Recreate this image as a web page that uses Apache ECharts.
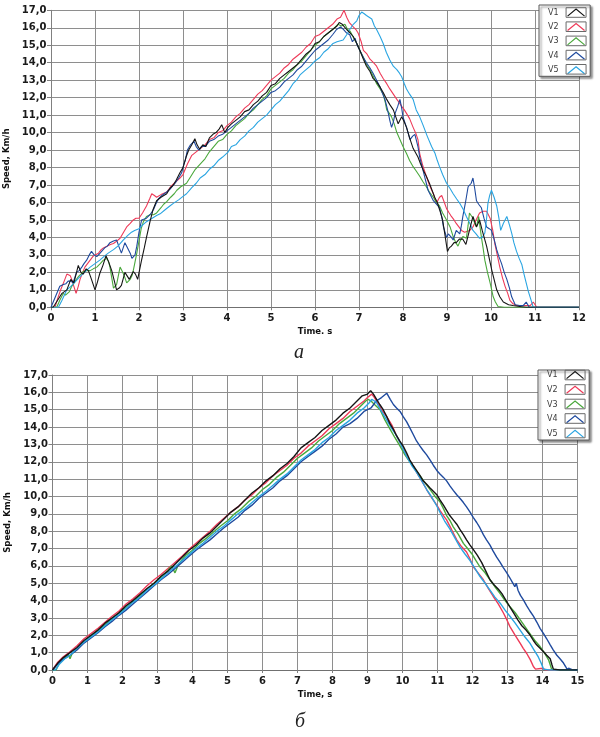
<!DOCTYPE html>
<html><head><meta charset="utf-8">
<script src="https://cdn.jsdelivr.net/npm/echarts/dist/echarts.min.js"></script>
<style>html,body{margin:0;padding:0;background:#fff}#c{width:600px;height:737px}</style>
</head><body><div id="c"></div>
<script>
// ---------- DATA ----------
const seriesNames = ['V1', 'V2', 'V3', 'V4', 'V5'];
const seriesColors = ['#151515', '#ee3a58', '#4aa83c', '#1f4a9e', '#2aa5e2'];
const xNameTop = 'Time. s';
const xNameBottom = 'Time, s';
const yName = 'Speed, Km/h';
const panelLabels = ['а', 'б'];

// chart (а): [time s, speed km/h]
const topV1 = [[0,0],[0.05,0],[0.15,0.4],[0.25,0.8],[0.36,1.0],[0.45,1.6],[0.52,1.4],[0.62,2.4],[0.68,2.0],[0.73,1.9],[0.8,2.2],[0.85,2.1],[0.92,1.6],[1.0,1.0],[1.05,1.4],[1.11,1.95],[1.18,2.4],[1.25,2.95],[1.31,2.6],[1.38,2.1],[1.44,1.5],[1.49,1.0],[1.55,1.1],[1.6,1.25],[1.68,2.0],[1.73,1.8],[1.78,1.6],[1.87,2.05],[1.92,1.9],[1.97,1.6],[2.05,2.6],[2.12,3.4],[2.17,4.0],[2.25,4.9],[2.32,5.6],[2.4,6.1],[2.5,6.3],[2.63,6.5],[2.7,6.8],[2.78,7.0],[2.85,7.3],[2.93,7.7],[3.0,8.0],[3.07,8.6],[3.13,9.0],[3.2,9.3],[3.27,9.65],[3.32,9.3],[3.38,9.05],[3.45,9.3],[3.52,9.2],[3.6,9.7],[3.68,9.9],[3.75,10.0],[3.82,10.2],[3.88,10.45],[3.95,10.0],[4.02,10.3],[4.1,10.5],[4.2,10.7],[4.3,10.9],[4.4,11.2],[4.5,11.3],[4.6,11.6],[4.7,11.8],[4.8,12.1],[4.9,12.3],[5.0,12.7],[5.1,12.8],[5.2,13.1],[5.3,13.3],[5.4,13.5],[5.5,13.7],[5.6,13.9],[5.7,14.2],[5.8,14.5],[5.9,14.7],[6.0,15.1],[6.1,15.2],[6.2,15.5],[6.3,15.7],[6.4,15.9],[6.5,16.1],[6.55,16.3],[6.62,16.2],[6.72,15.9],[6.8,15.7],[6.87,15.5],[6.95,15.1],[7.02,14.7],[7.1,14.2],[7.17,13.8],[7.25,13.5],[7.32,13.1],[7.4,12.9],[7.48,12.6],[7.55,12.3],[7.63,11.9],[7.7,11.6],[7.78,11.3],[7.85,10.8],[7.89,10.5],[7.97,10.9],[8.03,10.6],[8.08,10.3],[8.15,9.7],[8.23,9.1],[8.34,8.6],[8.4,8.2],[8.46,7.85],[8.53,7.5],[8.6,7.1],[8.66,6.7],[8.72,6.3],[8.78,6.0],[8.83,5.6],[8.9,5.0],[8.95,4.2],[9.01,3.2],[9.05,3.4],[9.1,3.5],[9.16,3.7],[9.21,3.7],[9.28,3.9],[9.36,3.9],[9.43,3.6],[9.51,4.4],[9.59,5.2],[9.63,4.9],[9.67,4.6],[9.74,5.0],[9.8,4.4],[9.9,3.5],[9.96,2.8],[10.02,2.1],[10.08,1.5],[10.13,1.0],[10.2,0.6],[10.28,0.3],[10.4,0.15],[10.5,0.1],[10.65,0.05],[10.8,0],[12,0]];
const topV2 = [[0,0],[0.09,0],[0.15,0.5],[0.22,1.0],[0.3,1.5],[0.36,1.9],[0.39,2.0],[0.44,1.8],[0.47,1.6],[0.52,1.2],[0.57,0.8],[0.62,1.2],[0.66,1.6],[0.72,2.0],[0.77,2.3],[0.83,2.5],[0.89,2.7],[0.95,2.9],[1.0,3.0],[1.08,3.1],[1.14,3.3],[1.19,3.4],[1.27,3.5],[1.35,3.6],[1.42,3.65],[1.5,3.8],[1.57,3.95],[1.65,4.3],[1.72,4.6],[1.8,4.8],[1.87,5.0],[1.93,5.1],[2.0,5.1],[2.08,5.4],[2.17,5.8],[2.24,6.2],[2.29,6.5],[2.35,6.4],[2.4,6.3],[2.5,6.45],[2.63,6.6],[2.72,6.9],[2.8,7.1],[2.93,7.4],[3.0,7.6],[3.1,8.2],[3.2,8.7],[3.3,8.9],[3.4,9.1],[3.5,9.3],[3.6,9.6],[3.7,9.7],[3.8,10.0],[3.9,10.1],[4.0,10.4],[4.1,10.6],[4.2,10.9],[4.3,11.1],[4.4,11.4],[4.5,11.6],[4.6,11.9],[4.7,12.2],[4.8,12.4],[4.9,12.7],[5.0,13.0],[5.1,13.2],[5.2,13.4],[5.3,13.7],[5.4,13.9],[5.5,14.2],[5.6,14.4],[5.7,14.6],[5.8,14.9],[5.9,15.1],[6.0,15.5],[6.1,15.6],[6.2,15.8],[6.3,16.0],[6.4,16.2],[6.5,16.5],[6.58,16.6],[6.66,17.0],[6.72,16.6],[6.78,16.3],[6.87,16.05],[6.93,15.9],[6.98,15.7],[7.05,15.2],[7.1,14.7],[7.18,14.5],[7.25,14.2],[7.33,14.0],[7.4,13.8],[7.48,13.4],[7.55,13.1],[7.63,12.8],[7.7,12.5],[7.78,12.2],[7.86,11.9],[7.92,11.7],[7.97,11.5],[8.03,11.3],[8.08,11.1],[8.15,10.8],[8.23,10.3],[8.3,9.9],[8.34,9.6],[8.38,8.8],[8.45,8.1],[8.53,7.5],[8.6,7.0],[8.69,6.5],[8.76,5.95],[8.83,6.3],[8.88,6.4],[8.94,6.0],[8.99,5.65],[9.05,5.4],[9.1,5.2],[9.16,5.0],[9.21,4.8],[9.27,4.6],[9.33,4.4],[9.4,4.3],[9.44,4.2],[9.52,4.4],[9.59,4.6],[9.66,5.0],[9.74,5.4],[9.82,5.5],[9.9,5.5],[9.98,5.1],[10.04,4.4],[10.09,3.6],[10.15,2.9],[10.2,2.3],[10.26,1.7],[10.32,1.2],[10.38,0.8],[10.43,0.4],[10.5,0.2],[10.58,0.1],[10.75,0.1],[10.89,0.1],[10.96,0.3],[11.04,0],[12,0]];
const topV3 = [[0,0],[0.13,0],[0.2,0.4],[0.28,0.8],[0.33,0.7],[0.36,0.6],[0.42,0.9],[0.47,1.2],[0.55,1.5],[0.62,1.75],[0.68,1.9],[0.73,2.05],[0.8,2.1],[0.89,2.1],[0.96,2.2],[1.04,2.3],[1.12,2.5],[1.19,2.7],[1.27,2.8],[1.31,2.6],[1.34,2.3],[1.38,1.7],[1.42,1.1],[1.46,1.1],[1.49,1.3],[1.53,1.8],[1.57,2.3],[1.61,2.1],[1.64,1.95],[1.68,1.7],[1.72,1.4],[1.76,1.4],[1.8,1.6],[1.84,1.8],[1.87,2.1],[1.91,2.6],[1.95,3.1],[2.0,3.8],[2.05,4.5],[2.1,4.9],[2.17,5.2],[2.25,5.3],[2.33,5.3],[2.4,5.4],[2.5,5.7],[2.56,5.9],[2.63,6.05],[2.72,6.3],[2.8,6.5],[2.86,6.7],[2.95,6.9],[3.08,7.1],[3.18,7.5],[3.28,7.9],[3.39,8.2],[3.5,8.5],[3.6,8.9],[3.7,9.2],[3.8,9.5],[3.9,9.6],[4.0,9.9],[4.1,10.1],[4.2,10.4],[4.3,10.6],[4.4,10.8],[4.5,11.1],[4.6,11.3],[4.7,11.6],[4.8,11.9],[4.9,12.1],[5.0,12.5],[5.1,12.7],[5.2,12.9],[5.3,13.1],[5.4,13.4],[5.5,13.6],[5.6,13.9],[5.7,14.1],[5.8,14.4],[5.9,14.7],[6.0,15.0],[6.1,15.2],[6.2,15.5],[6.3,15.7],[6.4,15.9],[6.52,16.2],[6.6,16.1],[6.68,16.2],[6.74,15.9],[6.8,15.8],[6.88,15.4],[6.95,15.1],[7.02,14.7],[7.1,14.3],[7.17,13.9],[7.25,13.6],[7.33,13.2],[7.4,12.8],[7.48,12.5],[7.55,12.2],[7.6,11.7],[7.63,11.3],[7.69,11.1],[7.74,10.9],[7.8,10.5],[7.86,10.0],[7.93,9.6],[8.0,9.2],[8.08,8.8],[8.15,8.4],[8.23,8.05],[8.3,7.8],[8.38,7.5],[8.45,7.2],[8.53,6.9],[8.6,6.6],[8.69,6.3],[8.76,6.0],[8.83,5.8],[8.9,5.4],[8.99,5.0],[9.07,4.6],[9.14,4.05],[9.2,3.7],[9.25,3.5],[9.3,3.8],[9.36,4.05],[9.4,4.0],[9.44,3.95],[9.48,4.7],[9.51,5.4],[9.55,5.3],[9.59,5.1],[9.63,4.8],[9.67,4.6],[9.72,5.2],[9.75,4.6],[9.78,4.05],[9.82,3.4],[9.86,2.7],[9.92,2.0],[9.98,1.4],[10.05,0.6],[10.1,0.3],[10.16,0.05],[10.3,0],[12,0]];
const topV4 = [[0,0],[0.03,0],[0.1,0.6],[0.2,1.2],[0.28,1.3],[0.34,1.35],[0.39,1.5],[0.45,1.5],[0.5,1.4],[0.54,1.7],[0.58,2.0],[0.64,2.1],[0.7,2.3],[0.75,2.5],[0.81,2.7],[0.87,3.0],[0.92,3.2],[0.98,3.0],[1.04,2.9],[1.1,3.05],[1.15,3.2],[1.22,3.4],[1.28,3.5],[1.34,3.7],[1.42,3.8],[1.49,3.85],[1.54,3.5],[1.6,3.1],[1.64,3.4],[1.68,3.7],[1.74,3.4],[1.8,3.1],[1.84,2.8],[1.87,2.7],[1.91,3.0],[1.95,3.5],[2.0,4.3],[2.06,5.0],[2.12,5.05],[2.17,5.1],[2.25,5.3],[2.33,5.6],[2.38,5.9],[2.44,6.2],[2.52,6.4],[2.63,6.6],[2.72,6.8],[2.82,7.1],[2.9,7.4],[2.97,7.7],[3.02,8.2],[3.05,8.4],[3.1,9.0],[3.17,9.3],[3.25,9.5],[3.3,9.2],[3.36,9.0],[3.42,9.2],[3.5,9.2],[3.6,9.5],[3.7,9.6],[3.8,9.8],[3.9,9.9],[4.0,10.1],[4.1,10.3],[4.2,10.5],[4.3,10.7],[4.4,10.9],[4.5,11.1],[4.6,11.4],[4.7,11.6],[4.8,11.8],[4.9,12.0],[5.0,12.3],[5.1,12.4],[5.2,12.6],[5.3,12.9],[5.4,13.1],[5.5,13.3],[5.6,13.6],[5.7,13.8],[5.8,14.1],[5.9,14.4],[6.0,14.7],[6.1,14.9],[6.2,15.1],[6.3,15.3],[6.4,15.6],[6.49,15.9],[6.58,16.05],[6.65,15.9],[6.72,15.7],[6.79,15.6],[6.85,15.2],[6.91,15.4],[6.96,15.0],[7.02,14.7],[7.1,14.3],[7.17,14.0],[7.25,13.7],[7.32,13.4],[7.4,13.0],[7.48,12.6],[7.54,12.2],[7.59,11.9],[7.65,11.3],[7.7,10.7],[7.74,10.3],[7.78,10.6],[7.82,11.1],[7.88,11.5],[7.93,11.9],[7.97,11.4],[8.0,10.9],[8.08,10.3],[8.16,9.6],[8.22,9.8],[8.27,9.9],[8.34,9.2],[8.38,8.6],[8.44,8.0],[8.49,7.5],[8.53,7.1],[8.57,6.7],[8.63,6.4],[8.69,6.1],[8.76,5.9],[8.83,5.7],[8.88,5.2],[8.92,4.6],[8.99,4.0],[9.03,4.2],[9.07,4.25],[9.1,4.0],[9.14,3.85],[9.21,4.4],[9.25,4.3],[9.29,4.2],[9.33,4.7],[9.36,5.2],[9.42,6.0],[9.48,6.9],[9.55,7.1],[9.59,7.4],[9.63,6.8],[9.67,6.1],[9.72,5.9],[9.78,5.7],[9.84,5.1],[9.9,4.6],[9.96,4.5],[10.01,4.4],[10.07,3.9],[10.13,3.3],[10.18,2.9],[10.24,2.5],[10.3,2.0],[10.36,1.6],[10.42,1.1],[10.47,0.6],[10.55,0.15],[10.65,0.1],[10.73,0.1],[10.8,0.3],[10.87,0],[12,0]];
const topV5 = [[0,0],[0.17,0],[0.25,0.4],[0.36,1.0],[0.45,1.2],[0.55,1.45],[0.62,1.65],[0.7,1.85],[0.8,2.1],[0.89,2.3],[1.0,2.5],[1.11,2.7],[1.2,2.9],[1.3,3.1],[1.42,3.3],[1.52,3.5],[1.64,3.85],[1.74,4.1],[1.83,4.3],[1.9,4.4],[2.0,4.5],[2.08,4.7],[2.17,4.9],[2.3,5.1],[2.4,5.25],[2.48,5.35],[2.6,5.6],[2.7,5.8],[2.78,5.95],[2.9,6.15],[3.0,6.35],[3.08,6.5],[3.2,6.85],[3.3,7.1],[3.39,7.4],[3.5,7.6],[3.6,7.9],[3.7,8.1],[3.8,8.4],[3.9,8.6],[4.03,8.9],[4.1,9.2],[4.2,9.3],[4.3,9.6],[4.4,9.8],[4.5,10.1],[4.6,10.3],[4.7,10.6],[4.8,10.8],[4.9,11.0],[5.0,11.3],[5.1,11.6],[5.2,11.8],[5.3,12.1],[5.4,12.4],[5.5,12.8],[5.58,13.0],[5.66,13.3],[5.75,13.5],[5.89,13.8],[6.0,14.1],[6.11,14.3],[6.2,14.6],[6.3,14.8],[6.41,15.1],[6.5,15.2],[6.64,15.3],[6.72,15.6],[6.79,15.9],[6.87,16.2],[6.95,16.4],[7.0,16.7],[7.06,16.9],[7.12,16.8],[7.17,16.7],[7.23,16.6],[7.29,16.5],[7.35,16.1],[7.4,15.9],[7.48,15.5],[7.55,15.1],[7.62,14.6],[7.7,14.15],[7.78,13.8],[7.86,13.6],[7.92,13.4],[7.97,13.2],[8.03,12.8],[8.08,12.5],[8.15,12.2],[8.23,11.9],[8.3,11.3],[8.38,10.9],[8.46,10.4],[8.55,9.8],[8.65,9.2],[8.73,8.8],[8.78,8.4],[8.83,8.05],[8.9,7.6],[8.99,7.1],[9.07,6.8],[9.14,6.5],[9.22,6.2],[9.29,5.95],[9.37,5.6],[9.44,5.2],[9.52,4.8],[9.59,4.4],[9.66,4.2],[9.74,3.95],[9.8,4.0],[9.86,4.25],[9.9,5.1],[9.93,5.95],[9.97,6.4],[10.01,6.7],[10.07,6.3],[10.13,5.8],[10.18,5.1],[10.22,4.4],[10.28,4.8],[10.36,5.2],[10.42,4.7],[10.47,4.25],[10.52,3.7],[10.58,3.2],[10.64,2.8],[10.7,2.45],[10.75,1.9],[10.8,1.4],[10.85,0.9],[10.9,0.5],[10.96,0],[12,0]];

// chart (б): [time s, speed km/h]
const botV1 = [[0,0],[0.05,0],[0.15,0.4],[0.3,0.7],[0.5,1.0],[0.7,1.3],[0.9,1.7],[1.1,2.0],[1.3,2.3],[1.5,2.7],[1.7,3.0],[1.9,3.3],[2.1,3.7],[2.3,4.0],[2.5,4.35],[2.7,4.7],[2.9,5.0],[3.1,5.4],[3.3,5.7],[3.5,6.1],[3.7,6.5],[3.9,6.9],[4.1,7.2],[4.3,7.6],[4.5,7.9],[4.7,8.3],[4.9,8.7],[5.1,9.1],[5.3,9.4],[5.5,9.8],[5.7,10.2],[5.9,10.5],[6.1,10.9],[6.3,11.2],[6.5,11.6],[6.7,11.9],[6.9,12.3],[7.1,12.8],[7.3,13.1],[7.5,13.4],[7.7,13.8],[7.9,14.1],[8.1,14.4],[8.3,14.8],[8.5,15.1],[8.7,15.5],[8.85,15.8],[9.0,15.9],[9.09,16.1],[9.17,15.9],[9.26,15.6],[9.35,15.3],[9.45,15.0],[9.55,14.6],[9.64,14.2],[9.73,13.9],[9.83,13.5],[9.92,13.2],[10.02,12.9],[10.12,12.5],[10.21,12.1],[10.3,11.8],[10.4,11.5],[10.5,11.2],[10.59,10.9],[10.69,10.7],[10.78,10.5],[10.88,10.3],[10.98,10.1],[11.07,9.8],[11.17,9.5],[11.26,9.2],[11.35,8.9],[11.45,8.65],[11.55,8.4],[11.64,8.1],[11.74,7.8],[11.83,7.5],[11.93,7.2],[12.02,6.95],[12.14,6.6],[12.26,6.2],[12.38,5.7],[12.5,5.2],[12.62,4.9],[12.74,4.65],[12.84,4.4],[12.93,4.1],[13.05,3.7],[13.17,3.3],[13.29,2.9],[13.41,2.55],[13.53,2.3],[13.65,2.0],[13.74,1.7],[13.83,1.45],[13.93,1.25],[14.03,1.05],[14.12,0.85],[14.22,0.65],[14.27,0.3],[14.31,0.05],[14.5,0],[15,0]];
const botV2 = [[0,0],[0.05,0],[0.15,0.45],[0.3,0.75],[0.5,1.05],[0.7,1.4],[0.9,1.8],[1.1,2.1],[1.3,2.4],[1.5,2.75],[1.7,3.1],[1.9,3.4],[2.1,3.8],[2.3,4.1],[2.5,4.45],[2.7,4.85],[2.9,5.2],[3.1,5.5],[3.3,5.85],[3.5,6.2],[3.7,6.55],[3.9,6.95],[4.1,7.3],[4.3,7.65],[4.5,8.0],[4.7,8.4],[4.9,8.75],[5.1,9.1],[5.3,9.4],[5.5,9.8],[5.7,10.1],[5.9,10.5],[6.1,10.8],[6.3,11.2],[6.5,11.5],[6.7,11.8],[6.9,12.2],[7.1,12.5],[7.3,12.9],[7.5,13.2],[7.7,13.5],[7.9,13.9],[8.1,14.2],[8.3,14.5],[8.5,14.9],[8.7,15.2],[8.9,15.5],[9.0,15.7],[9.12,15.9],[9.2,15.7],[9.26,15.5],[9.4,15.0],[9.55,14.6],[9.7,14.1],[9.83,13.5],[9.98,12.9],[10.12,12.3],[10.26,11.9],[10.4,11.4],[10.55,10.9],[10.69,10.4],[10.84,9.9],[10.98,9.5],[11.07,9.2],[11.17,8.9],[11.26,8.65],[11.4,8.1],[11.55,7.5],[11.69,7.1],[11.83,6.8],[11.93,6.4],[12.02,5.95],[12.16,5.6],[12.31,5.2],[12.45,4.7],[12.59,4.25],[12.74,3.8],[12.88,3.3],[12.98,2.9],[13.07,2.5],[13.22,2.0],[13.36,1.55],[13.45,1.25],[13.55,0.95],[13.65,0.6],[13.74,0.2],[13.8,0.05],[14.0,0.1],[14.1,0],[15,0]];
const botV3 = [[0,0],[0.1,0],[0.2,0.4],[0.35,0.7],[0.45,0.9],[0.5,0.65],[0.56,0.95],[0.7,1.2],[0.9,1.6],[1.1,1.95],[1.3,2.3],[1.5,2.6],[1.7,2.95],[1.9,3.3],[2.1,3.6],[2.3,3.95],[2.5,4.3],[2.7,4.65],[2.9,5.0],[3.1,5.35],[3.3,5.75],[3.4,6.0],[3.5,5.6],[3.6,6.1],[3.8,6.6],[4.0,6.9],[4.2,7.3],[4.4,7.6],[4.6,7.95],[4.8,8.3],[5.0,8.6],[5.2,9.0],[5.4,9.3],[5.6,9.7],[5.8,10.0],[6.0,10.4],[6.2,10.7],[6.4,11.1],[6.6,11.4],[6.8,11.8],[7.0,12.2],[7.2,12.5],[7.4,12.8],[7.6,13.2],[7.8,13.5],[8.0,13.8],[8.2,14.2],[8.4,14.5],[8.6,14.8],[8.8,15.2],[8.95,15.5],[9.02,15.6],[9.1,15.5],[9.2,15.3],[9.36,15.0],[9.5,14.4],[9.64,13.9],[9.78,13.4],[9.93,12.9],[10.07,12.4],[10.21,12.0],[10.35,11.6],[10.5,11.2],[10.64,10.8],[10.79,10.4],[10.93,10.0],[11.07,9.7],[11.17,9.3],[11.26,8.9],[11.36,8.6],[11.45,8.25],[11.6,7.8],[11.74,7.3],[11.86,7.0],[11.98,6.7],[12.1,6.3],[12.21,5.95],[12.36,5.6],[12.5,5.2],[12.64,4.8],[12.79,4.4],[12.93,4.0],[13.07,3.65],[13.22,3.3],[13.36,2.9],[13.5,2.5],[13.64,2.1],[13.78,1.7],[13.93,1.35],[14.05,1.0],[14.17,0.6],[14.22,0.3],[14.26,0.05],[14.5,0],[15,0]];
const botV4 = [[0,0],[0.05,0],[0.15,0.35],[0.3,0.6],[0.5,0.85],[0.7,1.15],[0.9,1.55],[1.1,1.85],[1.3,2.15],[1.5,2.5],[1.7,2.8],[1.9,3.15],[2.1,3.45],[2.3,3.8],[2.5,4.15],[2.7,4.5],[2.9,4.85],[3.1,5.2],[3.3,5.5],[3.5,5.85],[3.7,6.2],[3.9,6.55],[4.1,6.9],[4.3,7.2],[4.5,7.5],[4.7,7.85],[4.9,8.2],[5.1,8.5],[5.3,8.8],[5.5,9.2],[5.7,9.5],[5.9,9.9],[6.1,10.2],[6.3,10.5],[6.5,10.9],[6.7,11.2],[6.9,11.6],[7.1,12.0],[7.3,12.3],[7.5,12.6],[7.7,12.9],[7.9,13.3],[8.1,13.6],[8.3,14.0],[8.5,14.2],[8.7,14.5],[8.9,14.9],[9.1,15.1],[9.25,15.5],[9.4,15.7],[9.55,15.95],[9.65,15.6],[9.74,15.3],[9.83,15.1],[9.93,14.9],[10.02,14.6],[10.12,14.3],[10.21,13.95],[10.3,13.6],[10.4,13.2],[10.5,12.9],[10.59,12.65],[10.69,12.4],[10.79,12.1],[10.88,11.8],[10.98,11.5],[11.07,11.3],[11.17,11.1],[11.26,10.9],[11.36,10.6],[11.45,10.35],[11.55,10.1],[11.64,9.9],[11.74,9.65],[11.83,9.4],[11.93,9.1],[12.02,8.8],[12.12,8.5],[12.21,8.2],[12.31,7.8],[12.4,7.5],[12.5,7.2],[12.59,6.85],[12.69,6.5],[12.79,6.2],[12.88,5.9],[12.98,5.6],[13.07,5.3],[13.14,5.05],[13.21,4.8],[13.25,5.0],[13.3,4.6],[13.37,4.3],[13.45,4.05],[13.55,3.7],[13.64,3.4],[13.74,3.1],[13.84,2.75],[13.93,2.4],[14.03,2.1],[14.12,1.8],[14.22,1.45],[14.31,1.15],[14.41,0.85],[14.5,0.65],[14.6,0.4],[14.66,0.2],[14.7,0.05],[14.76,0.1],[14.81,0.2],[14.86,0],[15,0]];
const botV5 = [[0,0],[0.08,0],[0.2,0.35],[0.35,0.65],[0.5,0.85],[0.7,1.25],[0.9,1.6],[1.1,1.9],[1.3,2.2],[1.5,2.55],[1.7,2.9],[1.9,3.2],[2.1,3.55],[2.3,3.9],[2.5,4.2],[2.7,4.6],[2.9,4.9],[3.1,5.25],[3.3,5.6],[3.5,5.95],[3.7,6.3],[3.9,6.65],[4.1,7.0],[4.3,7.3],[4.5,7.65],[4.7,8.0],[4.9,8.3],[5.1,8.65],[5.3,9.0],[5.5,9.3],[5.7,9.65],[5.9,10.0],[6.1,10.3],[6.3,10.65],[6.5,11.0],[6.7,11.3],[6.9,11.7],[7.1,12.1],[7.3,12.4],[7.5,12.7],[7.7,13.1],[7.9,13.4],[8.1,13.8],[8.3,14.1],[8.5,14.4],[8.7,14.8],[8.9,15.1],[9.05,15.4],[9.12,15.6],[9.2,15.5],[9.26,15.4],[9.4,14.9],[9.55,14.4],[9.7,13.9],[9.83,13.5],[9.98,12.9],[10.12,12.3],[10.26,11.8],[10.4,11.4],[10.55,10.9],[10.69,10.4],[10.79,10.1],[10.88,9.8],[10.98,9.45],[11.07,9.1],[11.2,8.6],[11.36,8.1],[11.5,7.6],[11.64,7.1],[11.78,6.7],[11.93,6.3],[12.07,5.85],[12.21,5.4],[12.36,5.0],[12.5,4.6],[12.64,4.2],[12.79,3.85],[12.93,3.45],[13.07,3.1],[13.22,2.7],[13.36,2.3],[13.5,1.9],[13.64,1.55],[13.76,1.15],[13.88,0.75],[13.96,0.4],[14.03,0.05],[14.2,0],[15,0]];

const topData = [topV1, topV2, topV3, topV4, topV5];
const botData = [botV1, botV2, botV3, botV4, botV5];
const topXMax = 12, botXMax = 15, yMax = 17;

// ---------- LAYOUT / STYLE ----------
const gridTop = {left: 51, top: 10.3, width: 528, height: 297};
const gridBot = {left: 52.5, top: 375, width: 525, height: 295};
const FONT = 'DejaVu Sans';
const gridColor = '#8e8e8e';

function yAxisOpt(gi){
  return {
    gridIndex: gi, type: 'value', min: 0, max: yMax, interval: 1,
    name: yName, nameLocation: 'middle', nameGap: 29,
    nameTextStyle: {fontFamily: FONT, fontWeight: 'bold', fontSize: 8.5, color: '#111'},
    axisLine: {show: true, lineStyle: {color: '#808080', width: 1}},
    axisTick: {show: true, length: 4, lineStyle: {color: '#808080'}},
    axisLabel: {margin: 4.5, fontFamily: FONT, fontWeight: 'bold', fontSize: 10, color: '#1a1a1a',
      formatter: v => v.toFixed(1).replace('.', ',')},
    splitLine: {show: true, lineStyle: {color: gridColor, width: 1}}
  };
}
function xAxisOpt(gi, max, name){
  return {
    gridIndex: gi, type: 'value', min: 0, max: max, interval: 1,
    name: name, nameLocation: 'middle', nameGap: 20,
    nameTextStyle: {fontFamily: FONT, fontWeight: 'bold', fontSize: 8.5, color: '#111'},
    axisLine: {show: true, onZero: false, lineStyle: {color: '#707070', width: 1}},
    axisTick: {show: true, length: 3, lineStyle: {color: '#808080'}},
    axisLabel: {margin: 6, fontFamily: FONT, fontWeight: 'bold', fontSize: 10, color: '#1a1a1a'},
    splitLine: {show: true, lineStyle: {color: gridColor, width: 1}}
  };
}

const series = [];
topData.forEach((d, i) => series.push({
  name: seriesNames[i], type: 'line', xAxisIndex: 0, yAxisIndex: 0, data: d,
  symbol: 'none', showSymbol: false, animation: false, z: i === 0 ? 4 : 2,
  lineStyle: {color: seriesColors[i], width: 1.1}, itemStyle: {color: seriesColors[i]}
}));
botData.forEach((d, i) => series.push({
  name: seriesNames[i], type: 'line', xAxisIndex: 1, yAxisIndex: 1, data: d,
  symbol: 'none', showSymbol: false, animation: false, z: i === 0 ? 4 : 2,
  lineStyle: {color: seriesColors[i], width: 1.4}, itemStyle: {color: seriesColors[i]}
}));

// legends
const legendCfg = [
  {left: 539, top: 5, padTop: 3.5, padBottom: 2, gap: 6.2},
  {left: 538, top: 370, padTop: 1, padBottom: 2, gap: 6.5}
];
const LEG_FS = 8, ICON_W = 17, ICON_H = 7, PAD_L = 9, PAD_R = 5, TXT_PAD = 4;
const chevron = 'path://M0,7 L8.5,0 L17,7';
const legends = legendCfg.map(c => ({
  data: seriesNames.map((n, i) => ({
    name: n, icon: chevron,
    itemStyle: {color: 'rgba(255,255,255,0)', borderColor: seriesColors[i], borderWidth: 1.2, opacity: 1}
  })),
  orient: 'vertical', left: c.left, top: c.top, align: 'right',
  itemWidth: ICON_W, itemHeight: ICON_H, itemGap: c.gap,
  padding: [c.padTop, PAD_R, c.padBottom, PAD_L],
  icon: chevron,
  textStyle: {fontFamily: FONT, fontSize: LEG_FS, color: '#3a3a3a', padding: [0, TXT_PAD, 0, 0]},
  backgroundColor: '#fff', borderColor: '#5a5a5a', borderWidth: 1,
  shadowColor: 'rgba(0,0,0,0.45)', shadowBlur: 2, shadowOffsetX: 2, shadowOffsetY: 2,
  selectedMode: false, z: 10
}));

const labelGraphics = [
  {type: 'text', left: 294, top: 343, style: {text: panelLabels[0], font: 'italic 20px "Liberation Serif"', fill: '#222'}},
  {type: 'text', left: 295, top: 712, style: {text: panelLabels[1], font: 'italic 20px "Liberation Serif"', fill: '#222'}}
];

const option = {
  animation: false,
  backgroundColor: '#fff',
  grid: [
    Object.assign({outerBoundsMode: 'none', containLabel: false}, gridTop),
    Object.assign({outerBoundsMode: 'none', containLabel: false}, gridBot)
  ],
  xAxis: [xAxisOpt(0, topXMax, xNameTop), xAxisOpt(1, botXMax, xNameBottom)],
  yAxis: [yAxisOpt(0), yAxisOpt(1)],
  legend: legends,
  series: series,
  graphic: labelGraphics
};

const chart = echarts.init(document.getElementById('c'), null, {renderer: 'canvas'});
chart.setOption(option);

// gray frames around the legend icons
const ctx = document.createElement('canvas').getContext('2d');
ctx.font = LEG_FS + 'px "' + FONT + '"';
let maxW = 0; seriesNames.forEach(n => { maxW = Math.max(maxW, ctx.measureText(n).width); });
const frames = [];
legendCfg.forEach(c => {
  const iconX = c.left + PAD_L + maxW + TXT_PAD + 5;
  const rowH = Math.max(ICON_H, LEG_FS);
  seriesNames.forEach((n, i) => {
    const cy = c.top + c.padTop + rowH / 2 + i * (rowH + c.gap);
    frames.push({type: 'rect', z: 100, silent: true,
      shape: {x: iconX - 1.5, y: cy - 4.8, width: ICON_W + 3, height: 9.6},
      style: {fill: 'none', stroke: '#6a6a6a', lineWidth: 1}});
  });
});
chart.setOption({graphic: labelGraphics.concat(frames)});
</script>
</body></html>
